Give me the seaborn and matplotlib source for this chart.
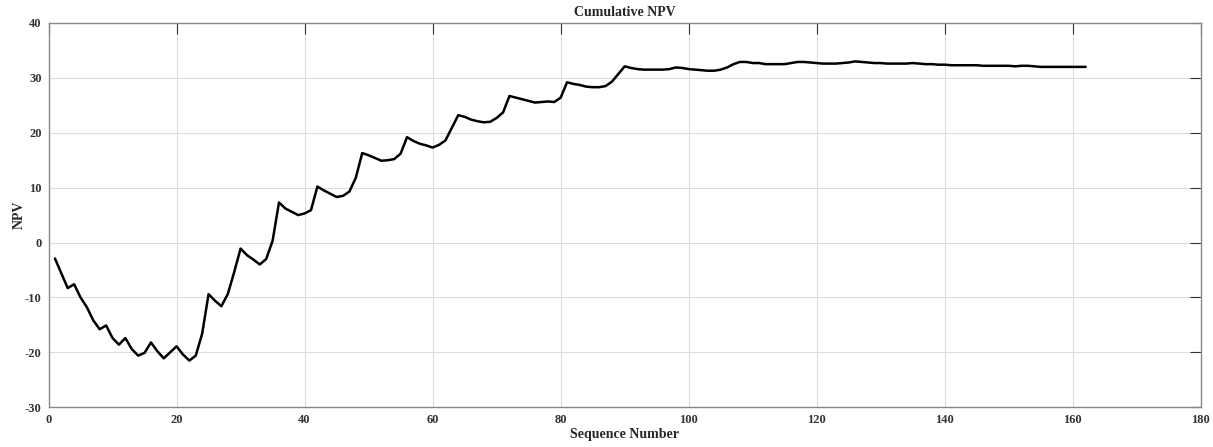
# Cumulative NPV along the sequence

import pandas as pd
import matplotlib
matplotlib.use("Agg")
import matplotlib.pyplot as plt
import seaborn as sns

# NPV, sequence 1..162
npv = [
    -2.9, -5.6, -8.3, -7.6, -10.0, -11.8, -14.2, -15.8, -15.1, -17.4,
    -18.6, -17.4, -19.4, -20.6, -20.1, -18.2, -19.8, -21.1, -20.0, -18.9,
    -20.4, -21.5, -20.6, -16.6, -9.4, -10.6, -11.6, -9.4, -5.4, -1.1,
    -2.3, -3.1, -4.0, -3.0, 0.3, 7.3, 6.2, 5.6, 5.0, 5.3,
    5.9, 10.2, 9.5, 8.9, 8.3, 8.5, 9.3, 11.8, 16.3, 15.9,
    15.4, 14.9, 15.0, 15.2, 16.2, 19.2, 18.5, 18.0, 17.7, 17.3,
    17.8, 18.6, 20.9, 23.2, 22.9, 22.4, 22.1, 21.9, 22.0, 22.7,
    23.7, 26.7, 26.4, 26.1, 25.8, 25.5, 25.6, 25.7, 25.6, 26.4,
    29.2, 28.9, 28.7, 28.4, 28.3, 28.3, 28.5, 29.3, 30.7, 32.1,
    31.8, 31.6, 31.5, 31.5, 31.5, 31.5, 31.6, 31.9, 31.8, 31.6,
    31.5, 31.4, 31.3, 31.3, 31.5, 31.9, 32.5, 32.9, 32.9, 32.7,
    32.7, 32.5, 32.5, 32.5, 32.5, 32.7, 32.9, 32.9, 32.8, 32.7,
    32.6, 32.6, 32.6, 32.7, 32.8, 33.0, 32.9, 32.8, 32.7, 32.7,
    32.6, 32.6, 32.6, 32.6, 32.7, 32.6, 32.5, 32.5, 32.4, 32.4,
    32.3, 32.3, 32.3, 32.3, 32.3, 32.2, 32.2, 32.2, 32.2, 32.2,
    32.1, 32.2, 32.2, 32.1, 32.0, 32.0, 32.0, 32.0, 32.0, 32.0,
    32.0, 32.0,
]
seq = list(range(1, len(npv) + 1))

x_ticks = [0, 20, 40, 60, 80, 100, 120, 140, 160, 180]
y_ticks = [-30, -20, -10, 0, 10, 20, 30, 40]

df = pd.DataFrame({"Sequence Number": seq, "NPV": npv})

sns.set_style("white")
plt.rcParams["font.family"] = ["Liberation Serif", "DejaVu Serif"]
plt.rcParams["font.weight"] = "bold"
plt.rcParams["axes.unicode_minus"] = False

fig = plt.figure(figsize=(12.13, 4.47), dpi=100)
ax = fig.add_axes([0.04, 0.089, 0.95, 0.8596])

sns.lineplot(x="Sequence Number", y="NPV", data=df, color="black", linewidth=1.8, ax=ax)

ax.set_xlim(0, 180)
ax.set_ylim(-30, 40)
ax.set_xticks(x_ticks)
ax.set_yticks(y_ticks)
ax.grid(True, color="#dcdcdc", linewidth=0.8)
ax.tick_params(direction="in", length=8, width=0.8, color="#333333",
               top=True, right=True, labelsize=9, pad=5)
for lab in ax.get_xticklabels() + ax.get_yticklabels():
    lab.set_fontweight("bold")
    lab.set_color("#333333")
for s in ax.spines.values():
    s.set_color("#888888")
    s.set_linewidth(1.0)

ax.set_title("Cumulative NPV", fontsize=10, fontweight="bold", pad=5)
ax.set_xlabel("Sequence Number", fontsize=10, fontweight="bold", labelpad=1)
ax.set_ylabel("NPV", fontsize=10, fontweight="bold", labelpad=-1)

plt.savefig("out.png", dpi=100)
